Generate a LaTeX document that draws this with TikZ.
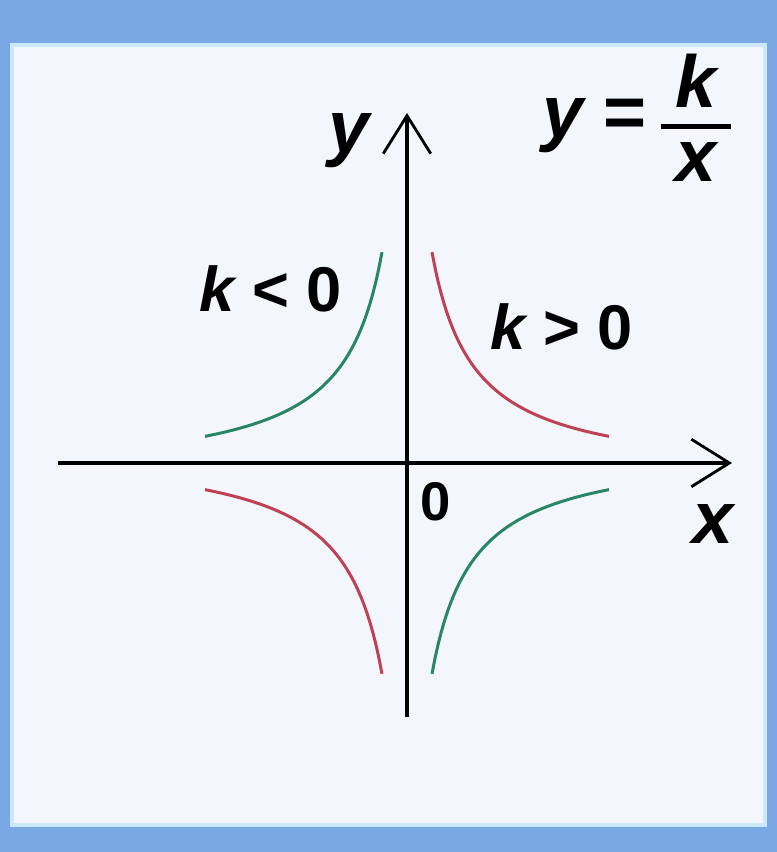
\documentclass[tikz,border=0pt]{standalone}
\usepackage{amsmath}
\usepackage{fontspec}
\setmainfont{Liberation Sans}
\usetikzlibrary{arrows.meta}
\definecolor{frameblue}{RGB}{122,168,228}
\definecolor{panelwhite}{RGB}{243,246,252}
\definecolor{panelrim}{RGB}{205,232,250}
\definecolor{curvered}{RGB}{190,66,84}
\definecolor{curvegreen}{RGB}{40,134,100}
\tikzset{
	axis/.style={line width=2.6pt,-{Straight Barb[length=0.76cm,width=0.95cm,line width=1.6pt]}},
	hyper/.style={line width=1.7pt,samples=60,domain=25:202},
	axislabel/.style={font=\fontsize{42}{46}\selectfont\bfseries\itshape},
	signlabel/.style={font=\fontsize{36}{40}\selectfont\bfseries},
	originlabel/.style={font=\fontsize{31}{34}\selectfont\bfseries}
}

\begin{document}
\begin{tikzpicture}[x=0.02cm,y=0.02cm]

        % ==================================================
        % 1. FRAME AND PANEL
        % ==================================================
        \useasboundingbox (-407,-389) rectangle (370,463);
        \fill[frameblue] (-407,-389) rectangle (370,463);
        \draw[panelrim,line width=2pt,fill=panelwhite] (-395,-362) rectangle (358,418);

        % ==================================================
        % 2. AXES
        % ==================================================
        \coordinate (O) at (0,0);
        \coordinate (xstart) at (-349,0);
        \coordinate (xend) at (325,0);
        \coordinate (ystart) at (0,-254);
        \coordinate (yend) at (0,350);
        \draw[axis] (xstart) -- (xend);
        \draw[axis] (ystart) -- (yend);

        \node[axislabel] (ylabel) at (-58,322) {y};
        \node[axislabel] (xlabel) at (306,-61) {x};
        \node[originlabel] (zero) at (29,-39) {0};

        % ==================================================
        % 3. BRANCHES OF y = k/x
        % ==================================================
        % k > 0 (red)
        \draw[hyper,curvered] plot (\x,{9300/(\x+16)-16});
        \draw[hyper,curvered] plot (-\x,{16-9300/(\x+16)});
        % k < 0 (green)
        \draw[hyper,curvegreen] plot (-\x,{9300/(\x+16)-16});
        \draw[hyper,curvegreen] plot (\x,{16-9300/(\x+16)});

        % ==================================================
        % 4. LABELS
        % ==================================================
        \node[signlabel] (kneg) at (-136,174) {\itshape k\upshape{} < 0};
        \node[signlabel] (kpos) at (155,136) {\itshape k\upshape{} > 0};
        \node[font=\fontsize{42}{46}\selectfont\bfseries] (formula) at (231,345)
            {$\text{\itshape y}\;\,\text{=}\;\genfrac{}{}{2.6pt}{0}{\text{\hspace{0.2em}\itshape k\hspace{0.2em}}}{\text{\itshape x}}$};

    \end{tikzpicture}
\end{document}
